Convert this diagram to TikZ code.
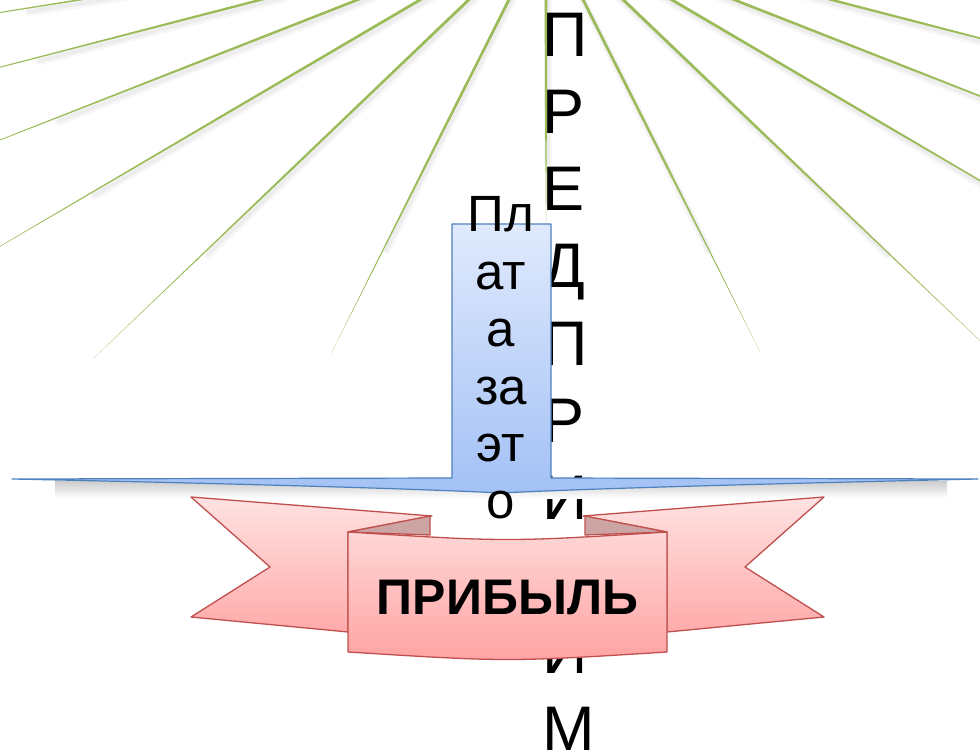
\documentclass[tikz,border=0pt]{standalone}
\usepackage{fontspec}
\setmainfont{Liberation Sans}
\usetikzlibrary{calc}
\definecolor{raygreen}{HTML}{9BBB59}
\definecolor{bluetop}{HTML}{E0EAFD}
\definecolor{bluebot}{HTML}{A3C1F5}
\definecolor{blueline}{HTML}{4F81BD}
\definecolor{wingtop}{HTML}{FFE2E2}
\definecolor{wingbot}{HTML}{FFAAAA}
\definecolor{paneltop}{HTML}{FFD6D6}
\definecolor{panelbot}{HTML}{FFA2A2}
\definecolor{redline}{HTML}{C0504D}
\definecolor{foldpink}{HTML}{CDA4A4}
\begin{document}
\begin{tikzpicture}[x=1pt,y=-1pt,
  raystyle/.style={fill=raygreen},
  rayshadowwide/.style={draw=black, opacity=0.03, line width=8pt, line cap=round},
  rayshadownarrow/.style={draw=black, opacity=0.04, line width=4pt, line cap=round},
  bigletter/.style={anchor=base west, inner sep=0pt, font=\fontsize{63}{63}\selectfont},
  boxtext/.style={anchor=base, inner sep=0pt, font=\fontsize{51}{51}\selectfont},
  bluearrow/.style={draw=blueline, line width=1.2pt, line join=round, top color=bluetop, bottom color=bluebot},
  wingstyle/.style={draw=redline, line width=1.3pt, line join=round, top color=wingtop, bottom color=wingbot},
  panelstyle/.style={draw=redline, line width=1.3pt, line join=round, top color=paneltop, bottom color=panelbot},
  foldstyle/.style={draw=redline, line width=1.3pt, line join=round, fill=foldpink},
  ribbontext/.style={anchor=base, inner sep=0pt, font=\fontsize{50}{50}\selectfont\bfseries}
]
\useasboundingbox (0,0) rectangle (980,751);
\clip (0,0) rectangle (980,751);
\fill[white] (0,0) rectangle (980,751);

% rays
\coordinate (C) at (546,-74);
\foreach \a/\l in {171/700,165.5/700,158.6/700,149.6/700,136.3/627,116.7/478,90/310,63.3/478,43.7/627,30.4/700,21.4/700,14.5/700}{
  \draw[rayshadowwide] ($(C)+(1.5,4)$) -- ($(C)+(1.5,4)+(\a:0.75*\l)$);
  \draw[rayshadownarrow] ($(C)+(1.5,3.5)$) -- ($(C)+(1.5,3.5)+(\a:0.75*\l)$);
}
\foreach \a/\l in {171/700,165.5/700,158.6/700,149.6/700,136.3/627,116.7/478,90/310,63.3/478,43.7/627,30.4/700,21.4/700,14.5/700}{
  \fill[raystyle] ($(C)+(\a+90:1.6)$) -- ($(C)+(\a:0.55*\l)+(\a+90:1.1)$) -- ($(C)+(\a:\l)$) -- ($(C)+(\a:0.55*\l)+(\a-90:1.1)$) -- ($(C)+(\a-90:1.6)$) -- cycle;
}

% vertical word (the letter hidden behind the ribbon is not drawn)
\foreach \c/\k in {П/0,Р/1,Е/2,Д/3,П/4,Р/5,И/6,И/8,М/9}{
  \node[bigletter] (v\k) at (542,57+77*\k) {\c};
}

% shadow of the arrow head
\shade[top color=black!20, bottom color=white] (55,481) rectangle (947,498);

% blue arrow
\path[bluearrow] (452,224) -- (551,224) -- (551,478) -- (978,479)
  .. controls (800,483) and (600,488) .. (501,493)
  .. controls (402,488) and (202,483) .. (12,479) -- (452,478) -- cycle;

\node[boxtext] (b1) at (501,232) {Пл};
\node[boxtext] (b2) at (501,290) {ат};
\node[boxtext] (b3) at (501,347) {а};
\node[boxtext] (b4) at (501,404) {за};
\node[boxtext] (b5) at (501,461) {эт};
\node[boxtext] (b6) at (501,518) {о};

% ribbon
\path[wingstyle] (191,497) -- (432,516) -- (348,532) -- (348,632) -- (191,617) -- (270,567) -- cycle;
\path[foldstyle] (430,516) -- (430,535) -- (348,532) -- cycle;
\path[wingstyle] (824,497) -- (583,516) -- (667,532) -- (667,632) -- (824,617) -- (745,567) -- cycle;
\path[foldstyle] (585,516) -- (585,535) -- (667,532) -- cycle;
\path[panelstyle] (348,532) .. controls (507.5,542) .. (667,532) -- (667,652)
  .. controls (507.5,662) .. (348,652) -- cycle;
\node[ribbontext] (profit) at (507.5,614) {ПРИБЫЛЬ};
\end{tikzpicture}
\end{document}
